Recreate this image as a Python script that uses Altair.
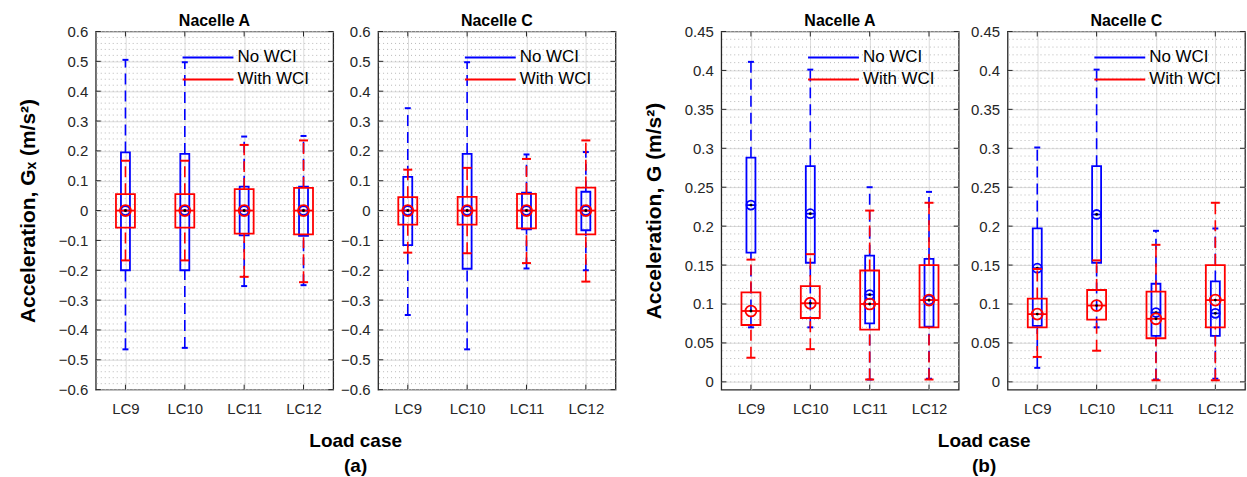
import altair as alt
import pandas as pd

# ---- categories and series -------------------------------------------------
load_cases = ["LC9", "LC10", "LC11", "LC12"]
series_names = ["No WCI", "With WCI"]
series_colors = ["#0000ff", "#ff0000"]

# ---- box statistics (whisker low, Q1, median, Q3, whisker high) ------------
# (a) longitudinal acceleration Gx, Nacelle A
gx_a_no = {"wlo": [-0.465, -0.46, -0.253, -0.25], "q1": [-0.2, -0.2, -0.083, -0.085],
           "med": [0.0, 0.0, 0.0, 0.0], "q3": [0.195, 0.19, 0.08, 0.08], "whi": [0.505, 0.497, 0.248, 0.25]}
gx_a_with = {"wlo": [-0.167, -0.167, -0.222, -0.24], "q1": [-0.057, -0.057, -0.077, -0.08],
             "med": [0.0, 0.0, 0.0, 0.0], "q3": [0.055, 0.055, 0.072, 0.076], "whi": [0.167, 0.167, 0.22, 0.235]}
# (a) longitudinal acceleration Gx, Nacelle C
gx_c_no = {"wlo": [-0.35, -0.465, -0.194, -0.2], "q1": [-0.116, -0.195, -0.063, -0.066],
           "med": [0.0, 0.0, 0.0, 0.0], "q3": [0.113, 0.19, 0.06, 0.063], "whi": [0.343, 0.497, 0.188, 0.196]}
gx_c_with = {"wlo": [-0.141, -0.143, -0.176, -0.238], "q1": [-0.047, -0.047, -0.06, -0.08],
             "med": [0.0, 0.0, 0.0, 0.0], "q3": [0.045, 0.046, 0.056, 0.077], "whi": [0.137, 0.143, 0.173, 0.235]}
# (b) resultant acceleration G, Nacelle A
g_a_no = {"wlo": [0.07, 0.07, 0.003, 0.004], "q1": [0.166, 0.153, 0.075, 0.071],
          "med": [0.227, 0.216, 0.112, 0.105], "q3": [0.288, 0.277, 0.162, 0.158], "whi": [0.411, 0.401, 0.25, 0.244]}
g_a_with = {"wlo": [0.031, 0.042, 0.003, 0.003], "q1": [0.073, 0.082, 0.067, 0.07],
            "med": [0.091, 0.101, 0.1, 0.105], "q3": [0.115, 0.123, 0.143, 0.15], "whi": [0.157, 0.164, 0.22, 0.23]}
# (b) resultant acceleration G, Nacelle C
g_c_no = {"wlo": [0.018, 0.07, 0.003, 0.004], "q1": [0.072, 0.153, 0.059, 0.059],
          "med": [0.146, 0.215, 0.089, 0.088], "q3": [0.197, 0.277, 0.126, 0.129], "whi": [0.301, 0.401, 0.194, 0.197]}
g_c_with = {"wlo": [0.032, 0.04, 0.002, 0.002], "q1": [0.07, 0.08, 0.056, 0.07],
            "med": [0.087, 0.098, 0.081, 0.105], "q3": [0.107, 0.118, 0.116, 0.15], "whi": [0.145, 0.156, 0.176, 0.23]}

# ---- axis ticks -----------------------------------------------------------
gx_major = [round(-0.6 + 0.1 * i, 2) for i in range(13)]
gx_minor = [round(-0.6 + 0.02 * i, 2) for i in range(61)]
g_major = [round(0.05 * i, 2) for i in range(10)]
g_minor = [round(0.01 * i, 2) for i in range(46)]

W, H = 238, 359
INK = "#262626"
GRID = "#dcdcdc"
MINOR = "#b8b8b8"
FONT = "Liberation Sans"


def panel(title, stats, domain, major, minor, ytitle, xtitle, xtitle_x):
    rows = []
    for name, st in zip(series_names, stats):
        for i, lc in enumerate(load_cases):
            rows.append({"series": name, "lc": lc, "wlo": st["wlo"][i], "q1": st["q1"][i],
                         "med": st["med"][i], "q3": st["q3"][i], "whi": st["whi"][i]})
    df = pd.DataFrame(rows)

    xs = alt.Scale(type="point", domain=load_cases, padding=0.5)
    ys = alt.Scale(domain=domain, nice=False, zero=False)

    xaxis_kw = dict(grid=True, gridColor=GRID, gridWidth=1, ticks=False, domain=False,
                    labelFontSize=15, labelPadding=12, labelColor=INK, labelAngle=0, labelFont=FONT)
    if xtitle:
        xaxis_kw.update(titleX=xtitle_x, titleY=57, titleAlign="center", titleBaseline="alphabetic",
                        titleFontSize=19, titleFontWeight="bold", titleLineHeight=25,
                        titleColor="black", titleFont=FONT)
        xaxis = alt.Axis(title=xtitle, **xaxis_kw)
    else:
        xaxis = alt.Axis(**xaxis_kw)

    yaxis_kw = dict(values=major, grid=True, gridColor=GRID, gridWidth=1, ticks=False, domain=False,
                    labelFontSize=15, labelPadding=8, labelColor=INK, labelFont=FONT, format="~g")
    if ytitle:
        yaxis_kw.update(titleFontSize=21, titleFontWeight="bold", titlePadding=20,
                        titleColor="black", titleFont=FONT)
        yaxis = alt.Axis(title=ytitle, **yaxis_kw)
    else:
        yaxis = alt.Axis(**yaxis_kw)

    def X():
        if xtitle:
            return alt.X("lc:N", scale=xs, axis=xaxis)
        return alt.X("lc:N", scale=xs, axis=xaxis, title=None)

    def Y(field):
        if ytitle:
            return alt.Y(f"{field}:Q", scale=ys, axis=yaxis)
        return alt.Y(f"{field}:Q", scale=ys, axis=yaxis, title=None)

    layers = []
    # dotted minor grid
    layers.append(alt.Chart(pd.DataFrame({"v": minor})).mark_rule(
        color=MINOR, strokeDash=[1, 3], strokeWidth=1).encode(y=Y("v")))
    # inward ticks on all four sides
    tick_df = pd.DataFrame({"v": major})
    layers.append(alt.Chart(tick_df).mark_rule(color=INK, strokeWidth=1).encode(
        y=Y("v"), x=alt.value(0), x2=alt.value(5)))
    layers.append(alt.Chart(tick_df).mark_rule(color=INK, strokeWidth=1).encode(
        y=Y("v"), x=alt.value(W - 5), x2=alt.value(W)))
    cat_df = pd.DataFrame({"lc": load_cases})
    layers.append(alt.Chart(cat_df).mark_rule(color=INK, strokeWidth=1).encode(
        x=X(), y=alt.value(0), y2=alt.value(5)))
    layers.append(alt.Chart(cat_df).mark_rule(color=INK, strokeWidth=1).encode(
        x=X(), y=alt.value(H - 5), y2=alt.value(H)))

    # box plots, No WCI first (narrow) then With WCI (wide)
    geom = {"No WCI": (9, 6, 80), "With WCI": (19, 9, 120)}
    for name, color in zip(series_names, series_colors):
        d = df[df["series"] == name]
        bw, cw, cs = geom[name]
        base = alt.Chart(d)
        layers.append(base.mark_rule(color=color, strokeWidth=1.6, strokeDash=[11, 6]).encode(
            x=X(), y=Y("q3"), y2="whi:Q"))
        layers.append(base.mark_rule(color=color, strokeWidth=1.6, strokeDash=[11, 6]).encode(
            x=X(), y=Y("wlo"), y2="q1:Q"))
        layers.append(base.mark_tick(color=color, size=cw, thickness=2, opacity=1).encode(
            x=X(), y=Y("whi")))
        layers.append(base.mark_tick(color=color, size=cw, thickness=2, opacity=1).encode(
            x=X(), y=Y("wlo")))
        layers.append(base.mark_bar(color=color, fillOpacity=0, stroke=color, strokeWidth=1.8,
                                    size=bw).encode(x=X(), y=Y("q1"), y2="q3:Q"))
        layers.append(base.mark_tick(color=color, size=bw, thickness=1.8, opacity=1).encode(
            x=X(), y=Y("med")))
        layers.append(base.mark_point(shape="circle", filled=False, color=color, size=cs,
                                      strokeWidth=1.8, opacity=1).encode(x=X(), y=Y("med")))
        layers.append(base.mark_point(shape="circle", filled=True, color="black", size=8,
                                      opacity=1).encode(x=X(), y=Y("med")))

    # in-panel legend
    for i, (name, color) in enumerate(zip(series_names, series_colors)):
        ld = pd.DataFrame({"series": [name]})
        yy = 26 + 22 * i
        layers.append(alt.Chart(ld).mark_rule(color=color, strokeWidth=2).encode(
            x=alt.value(87), x2=alt.value(138), y=alt.value(yy)))
        layers.append(alt.Chart(ld).mark_text(align="left", baseline="middle", fontSize=17,
                                              font=FONT, color="black").encode(
            text="series:N", x=alt.value(142), y=alt.value(yy)))

    return alt.layer(*layers).properties(
        width=W, height=H,
        title=alt.TitleParams(title, fontSize=16, fontWeight="bold", font=FONT, offset=-4,
                              anchor="middle", color="black", frame="group"),
        view=alt.ViewBackground(stroke=INK, strokeWidth=1.3),
    )


def spacer(w):
    return alt.Chart(pd.DataFrame({"v": [0]})).mark_point(opacity=0).encode(
        x=alt.X("v:Q", axis=None), y=alt.Y("v:Q", axis=None)).properties(
        width=w, height=H, view=alt.ViewBackground(strokeWidth=0, strokeOpacity=0))


ytitle_gx = "Acceleration, G\u2093 (m/s\u00b2)"
ytitle_g = "Acceleration, G (m/s\u00b2)"

pa_A = panel("Nacelle A", [gx_a_no, gx_a_with], [-0.6, 0.6], gx_major, gx_minor,
             ytitle_gx, ["Load case", "(a)"], 260)
pa_C = panel("Nacelle C", [gx_c_no, gx_c_with], [-0.6, 0.6], gx_major, gx_minor, None, None, 0)
pb_A = panel("Nacelle A", [g_a_no, g_a_with], [-0.01, 0.45], g_major, g_minor,
             ytitle_g, ["Load case", "(b)"], 263)
pb_C = panel("Nacelle C", [g_c_no, g_c_with], [-0.01, 0.45], g_major, g_minor, None, None, 0)

chart = alt.hconcat(pa_A, spacer(1), pa_C, spacer(62), pb_A, spacer(5), pb_C, spacing=22).properties(
    bounds="flush",
    padding={"left": 16, "top": 11, "right": 0, "bottom": 0},
).configure_view(stroke="transparent").configure(font=FONT)

chart.save("out.html", embed_options={"renderer": "svg", "actions": False})
